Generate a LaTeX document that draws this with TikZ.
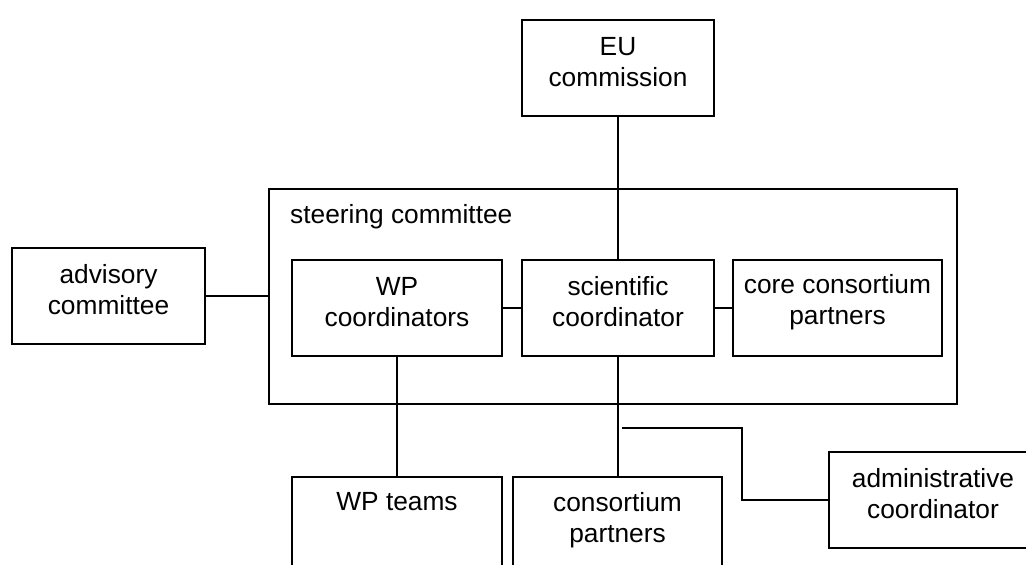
\documentclass[tikz,border=0pt]{standalone}
\usepackage{fontspec}
\setmainfont{Liberation Sans}
\tikzset{
  box/.style={draw, line width=1.8pt, rectangle, inner sep=0pt},
  unit/.style={box, minimum width=209pt, minimum height=96pt},
  narrow/.style={box, minimum width=192pt, minimum height=96pt},
  lbl/.style={inner sep=0pt, align=center, font=\fontsize{26.3}{31}\selectfont},
  % box caption, set slightly above the box centre
  txt/.style={label={[lbl, yshift=6pt]center:{#1}}},
  link/.style={line width=1.8pt}
}
\begin{document}
\begin{tikzpicture}[x=1pt, y=-1pt]
\path[use as bounding box, clip] (0,0) rectangle (1026,565);

% top level
\node[narrow, txt={EU\\commission}] (eu) at (618,68) {};
\node[box, minimum width=193pt, minimum height=96pt,
      txt={advisory\\committee}] (adv) at (108.5,296) {};

% steering committee frame with its members
\node[box, minimum width=688pt, minimum height=215pt] (steer) at (613,296.5) {};
\node[lbl, anchor=base west] (steertitle) at (290,223) {steering committee};
\node[unit, minimum width=210pt, txt={WP\\coordinators}] (wpc) at (397,308) {};
\node[narrow, txt={scientific\\coordinator}] (sci) at (618,308) {};
\node[unit, txt={core consortium\\partners}] (core) at (837.5,308) {};

% lower level
\node[unit, minimum width=210pt, minimum height=110pt] (wpt) at (397,532) {};
\node[lbl, anchor=north] (wpttext) at (397,492) {WP teams};
\node[unit, minimum height=110pt] (cons) at (617.5,532) {};
\node[lbl, anchor=north] (constext) at (617.5,492) {consortium\\partners};
\node[unit, minimum width=208pt, txt={administrative\\coordinator}] (admin) at (933,500) {};

% connectors
\draw[link] (eu.south) -- (sci.north);
\draw[link] (adv.east) -- (adv.east -| steer.west);
\draw[link] (wpc.east) -- (sci.west);
\draw[link] (sci.east) -- (core.west);
\draw[link] (wpc.south) -- (wpc.south |- wpt.north);
\draw[link] (sci.south) -- (sci.south |- cons.north);
\coordinate (tap) at (622,428);
\draw[link] (tap) -- (742,428) |- (admin.west);
\end{tikzpicture}
\end{document}
